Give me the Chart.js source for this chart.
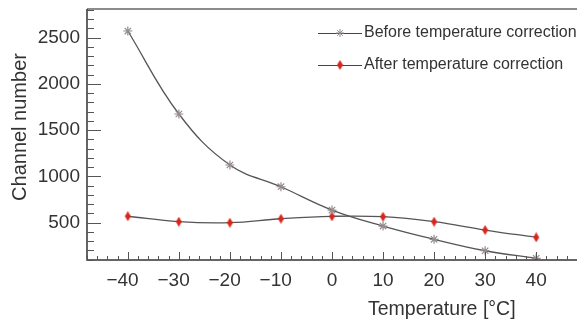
<!DOCTYPE html>
<html>
<head>
<meta charset="utf-8">
<script src="https://cdn.jsdelivr.net/npm/chart.js@4/dist/chart.umd.min.js"></script>
<style>
  html, body { margin: 0; padding: 0; background: #fff; overflow: hidden; }
  #wrap { width: 577px; height: 323px; }
</style>
</head>
<body>
<div id="wrap"><canvas id="chart" width="577" height="323"></canvas></div>
<script>
// Data
const temperatures = [-40, -30, -20, -10, 0, 10, 20, 30, 40];
const beforeCorrection = [2572, 1675, 1124, 889, 637, 464, 321, 197, 115];
const afterCorrection = [570, 511, 500, 543, 569, 565, 511, 421, 342];
const yTickValues = [500, 1000, 1500, 2000, 2500];
const xTickValues = [-40, -30, -20, -10, 0, 10, 20, 30, 40];

const FONT = '"Liberation Sans", Arial, Helvetica, sans-serif';
const TEXT = '#333';
const LINE = '#555';
const RED = '#d9261c';
const STAR = '#958a8d';

// tall red diamond marker
function makeDiamond() {
    const c = document.createElement('canvas');
    c.width = 7; c.height = 10;
    const g = c.getContext('2d');
    g.fillStyle = RED;
    g.beginPath();
    g.moveTo(3.5, 0);
    g.lineTo(6.5, 5);
    g.lineTo(3.5, 10);
    g.lineTo(0.5, 5);
    g.closePath();
    g.fill();
    return c;
}
const diamond = makeDiamond();

function toPoints(vals) {
    return temperatures.map((t, i) => ({ x: t, y: vals[i] }));
}

function noPadding(s) {
    s.paddingLeft = 0; s.paddingRight = 0;
    s.paddingTop = 0; s.paddingBottom = 0;
}

// ROOT style frame: inner ticks, legend, axis titles
const framePlugin = {
    id: 'frame',
    afterDraw(chart) {
        const ctx = chart.ctx;
        const a = chart.chartArea;
        const xs = chart.scales.x;
        const ys = chart.scales.y;
        ctx.save();

        // top frame line
        ctx.strokeStyle = '#666';
        ctx.lineWidth = 1.5;
        ctx.beginPath();
        ctx.moveTo(a.left, a.top);
        ctx.lineTo(a.right, a.top);
        ctx.stroke();

        // axes
        ctx.strokeStyle = '#333';
        ctx.lineWidth = 1.5;
        ctx.beginPath();
        ctx.moveTo(a.left, a.top);
        ctx.lineTo(a.left, a.bottom);
        ctx.lineTo(a.right, a.bottom);
        ctx.stroke();

        // y ticks every 100
        ctx.lineWidth = 1;
        ctx.strokeStyle = '#555';
        ctx.beginPath();
        for (let v = 100; v <= ys.max; v += 100) {
            const py = Math.round(ys.getPixelForValue(v)) + 0.5;
            const len = v % 500 === 0 ? 14 : 7;
            ctx.moveTo(a.left, py);
            ctx.lineTo(a.left + len, py);
        }
        // x ticks every 2
        for (let v = -48; v <= xs.max; v += 2) {
            const px = Math.round(xs.getPixelForValue(v)) + 0.5;
            const len = v % 10 === 0 ? 8 : 4;
            ctx.moveTo(px, a.bottom);
            ctx.lineTo(px, a.bottom - len);
        }
        ctx.stroke();

        // axis titles
        ctx.fillStyle = TEXT;
        ctx.font = '19.5px ' + FONT;
        ctx.textAlign = 'left';
        ctx.textBaseline = 'middle';
        ctx.fillText('Temperature [°C]', 368, 310);

        ctx.save();
        ctx.translate(20, 127);
        ctx.rotate(-Math.PI / 2);
        ctx.font = '20px ' + FONT;
        ctx.textAlign = 'center';
        ctx.fillText('Channel number', 0, 0);
        ctx.restore();

        // legend
        const rows = [
            { y: 33, label: 'Before temperature correction', style: 'star' },
            { y: 65, label: 'After temperature correction', style: diamond }
        ];
        rows.forEach(r => {
            ctx.strokeStyle = '#444';
            ctx.lineWidth = 1;
            ctx.beginPath();
            ctx.moveTo(318, r.y + 0.5);
            ctx.lineTo(362, r.y + 0.5);
            ctx.stroke();
            ctx.strokeStyle = STAR;
            Chart.helpers.drawPoint(ctx, {
                pointStyle: r.style, radius: 4, rotation: 0, borderWidth: 1
            }, 340, r.y);
            ctx.fillStyle = TEXT;
            ctx.font = '16px ' + FONT;
            ctx.textAlign = 'left';
            ctx.textBaseline = 'middle';
            ctx.fillText(r.label, 364, r.y);
        });

        ctx.restore();
    }
};

new Chart(document.getElementById('chart'), {
    type: 'line',
    data: {
        datasets: [
            {
                label: 'Before temperature correction',
                data: toPoints(beforeCorrection),
                borderColor: LINE,
                borderWidth: 1.3,
                tension: 0.4,
                pointStyle: 'star',
                pointRadius: 4.5,
                pointBorderColor: STAR,
                pointBorderWidth: 1.2,
                pointBackgroundColor: STAR
            },
            {
                label: 'After temperature correction',
                data: toPoints(afterCorrection),
                borderColor: LINE,
                borderWidth: 1.3,
                tension: 0.4,
                pointStyle: diamond,
                pointRadius: 5
            }
        ]
    },
    options: {
        responsive: false,
        animation: false,
        layout: { autoPadding: false, padding: { top: 9, right: 0, left: 0, bottom: 0 } },
        plugins: {
            legend: { display: false },
            tooltip: { enabled: false }
        },
        scales: {
            x: {
                type: 'linear',
                min: -48,
                max: 48,
                grid: { display: false, drawTicks: false },
                border: { display: false },
                afterBuildTicks: s => { s.ticks = xTickValues.map(v => ({ value: v })); },
                afterFit: s => { s.height = 63; noPadding(s); },
                ticks: {
                    color: TEXT,
                    font: { family: FONT, size: 19 },
                    padding: 9,
                    maxRotation: 0,
                    // figure space keeps the digits centred under the tick
                    callback: v => v < 0 ? '\u2212' + Math.abs(v) + '\u2007' : String(v)
                }
            },
            y: {
                type: 'linear',
                min: 97,
                max: 2810,
                grid: { display: false, drawTicks: false },
                border: { display: false },
                afterBuildTicks: s => { s.ticks = yTickValues.map(v => ({ value: v })); },
                afterFit: s => { s.width = 87; noPadding(s); },
                ticks: {
                    color: TEXT,
                    font: { family: FONT, size: 19 },
                    padding: 7,
                    callback: v => String(v)
                }
            }
        }
    },
    plugins: [framePlugin]
});
</script>
</body>
</html>
